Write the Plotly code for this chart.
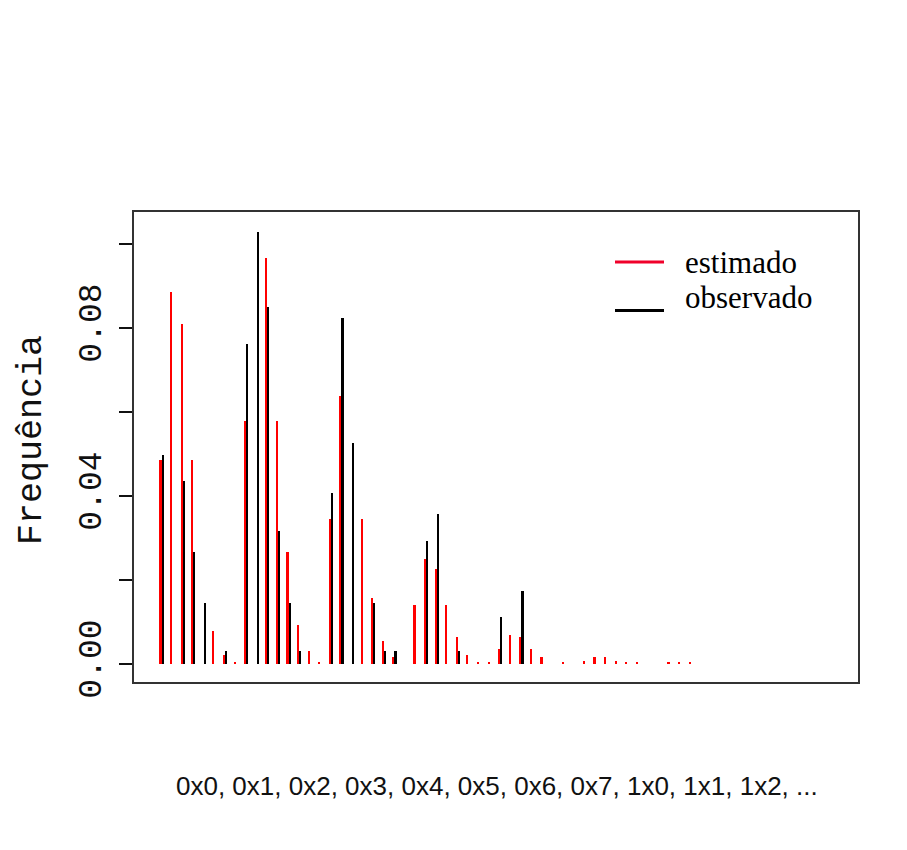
import plotly.graph_objects as go

# ---- data -------------------------------------------------------------
categories = [f"{h}x{a}" for h in range(8) for a in range(8)]

estimado = [
    0.0486, 0.0885, 0.0809, 0.0485, None,   0.0079, 0.0021, 0.0004,   # 0x
    0.0579, None,   0.0966, 0.0579, 0.0266, 0.0094, 0.0032, 0.0004,   # 1x
    0.0346, 0.0637, None,   0.0346, 0.0156, 0.0055, 0.0017, None,     # 2x
    0.0141, 0.0251, 0.0227, 0.0141, 0.0065, 0.0022, 0.0004, 0.0004,   # 3x
    0.0036, 0.0070, 0.0065, 0.0036, 0.0017, None,   0.0004, None,     # 4x
    0.0008, 0.0017, 0.0017, 0.0008, 0.0004, 0.0004, None,   None,     # 5x
    0.0004, 0.0004, 0.0004, None,   None,   None,   None,   None,     # 6x
    None,   None,   None,   None,   None,   None,   None,   None,     # 7x
]

observado = [
    0.0498, None,   0.0436, 0.0266, 0.0146, None,   0.0032, None,     # 0x
    0.0761, 0.1028, 0.0851, 0.0317, 0.0146, 0.0032, None,   None,     # 1x
    0.0408, 0.0823, 0.0527, None,   0.0146, 0.0032, 0.0032, None,     # 2x
    None,   0.0294, 0.0356, None,   0.0032, None,   None,   None,     # 3x
    0.0113, None,   0.0175, None,   None,   None,   None,   None,     # 4x
    None,   None,   None,   None,   None,   None,   None,   None,     # 5x
    None,   None,   None,   None,   None,   None,   None,   None,     # 6x
    None,   None,   None,   None,   None,   None,   None,   None,     # 7x
]

y_tickvals = [0.00, 0.02, 0.04, 0.06, 0.08, 0.10]
y_ticktext = ["0.00", "", "0.04", "", "0.08", ""]

x_label = "0x0, 0x1, 0x2, 0x3, 0x4, 0x5, 0x6, 0x7, 1x0, 1x1, 1x2, ..."
y_label = "Frequência"
legend_names = ["estimado", "observado"]

# ---- figure -----------------------------------------------------------
# the page body adds an 8px margin, so the figure is 8px smaller
W, H = 899, 842
L, R, T, B = 126, 49, 204, 168
pw, ph = W - L - R, H - T - B

def px_x(p):   # reference pixel -> paper x
    return (p - 8 - L) / pw

def px_y(p):   # reference pixel -> paper y
    return (H - B - (p - 8)) / ph

idx = list(range(len(categories)))

fig = go.Figure()
fig.add_trace(go.Bar(
    x=idx, y=estimado, width=0.2, name=legend_names[0],
    marker=dict(color="#ff0000", line=dict(width=0)),
    customdata=categories, hovertemplate="%{customdata}: %{y}<extra>estimado</extra>",
))
fig.add_trace(go.Bar(
    x=[i + 0.2 for i in idx], y=observado, width=0.2, name=legend_names[1],
    marker=dict(color="#000000", line=dict(width=0)),
    customdata=categories, hovertemplate="%{customdata}: %{y}<extra>observado</extra>",
))

fig.update_layout(
    width=W, height=H,
    margin=dict(l=L, r=R, t=T, b=B, pad=0),
    paper_bgcolor="white", plot_bgcolor="white",
    barmode="overlay", bargap=0,
    showlegend=False,
    xaxis=dict(
        range=[-2.5, 65.9], showticklabels=False, ticks="",
        showgrid=False, zeroline=False,
        showline=True, mirror=True, linecolor="#333333", linewidth=2,
    ),
    yaxis=dict(
        range=[-0.004286, 0.10762],
        tickvals=y_tickvals, ticktext=y_ticktext, tickangle=-90,
        ticks="outside", ticklen=13, tickwidth=2, tickcolor="#111111",
        ticklabelstandoff=5,
        tickfont=dict(family="Liberation Mono", size=33, color="#111111"),
        showgrid=False, zeroline=False,
        showline=True, mirror=True, linecolor="#333333", linewidth=2,
    ),
)

# axis titles
fig.add_annotation(text=x_label, xref="paper", yref="paper",
                   x=px_x(497), y=px_y(786), xanchor="center", yanchor="middle",
                   showarrow=False,
                   font=dict(family="Liberation Sans", size=26, color="#111111"))
fig.add_annotation(text=y_label, xref="paper", yref="paper",
                   x=px_x(32), y=px_y(440), xanchor="center", yanchor="middle",
                   textangle=-90, showarrow=False,
                   font=dict(family="Liberation Mono", size=35, color="#111111"))

# legend (as drawn on the slide)
legend_colors = ["#f0002a", "#000000"]
legend_line_y = [262, 310.5]
legend_text_y = [262.5, 297]
for name, col, ly, ty in zip(legend_names, legend_colors, legend_line_y, legend_text_y):
    fig.add_shape(type="line", xref="paper", yref="paper",
                  x0=px_x(615), x1=px_x(664), y0=px_y(ly), y1=px_y(ly),
                  line=dict(color=col, width=3))
    fig.add_annotation(text=name, xref="paper", yref="paper",
                       x=px_x(683), y=px_y(ty), xanchor="left", yanchor="middle",
                       showarrow=False,
                       font=dict(family="Liberation Serif", size=31, color="#000000"))

fig.write_html("out.html")
